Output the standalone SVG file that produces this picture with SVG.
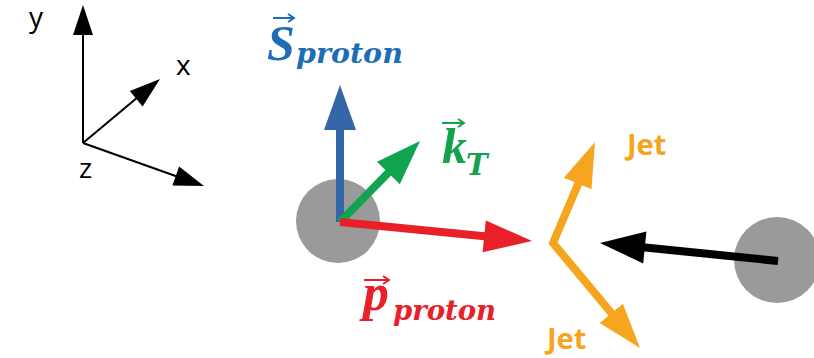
<svg xmlns="http://www.w3.org/2000/svg" width="814" height="358" viewBox="0 0 814 358">
<style>
.ax{stroke:#000;stroke-width:2;fill:none}
.axl{font-family:"Open Sans","Liberation Sans",sans-serif;font-size:28px;fill:#000}
.sh{stroke-width:8;fill:none;stroke-linecap:butt}
.math{font-family:"Liberation Serif","DejaVu Serif",serif;font-weight:bold;font-style:italic}
.sub{font-family:"DejaVu Serif","Liberation Serif",serif;font-weight:bold;font-style:italic}
.jet{font-family:"Open Sans","Liberation Sans",sans-serif;font-weight:bold;font-size:29px;fill:#f5a51c}
.proton{fill:#9a9a9a}
</style>
<rect width="814" height="358" fill="#fff"/>
<g id="axes">
<line class="ax" x1="83" y1="143" x2="83" y2="33"/>
<polygon points="83,5 93,35 73,35" fill="#000"/>
<line class="ax" x1="83" y1="143" x2="138" y2="97"/>
<polygon points="160,79 142.6,106.5 129.8,91.1" fill="#000"/>
<line class="ax" x1="83" y1="143" x2="177" y2="176.5"/>
<polygon points="204,186 172.4,185.4 179.1,166.6" fill="#000"/>
<text class="axl" x="29" y="27">y</text>
<text class="axl" x="176" y="75">x</text>
<text class="axl" x="79" y="178">z</text>
</g>
<g id="proton-left"><circle class="proton" cx="338" cy="221" r="42"/></g>
<g id="proton-right"><circle class="proton" cx="777" cy="260" r="43"/></g>
<g id="connectors">
<line class="sh" stroke="#3566a8" x1="340" y1="222" x2="340" y2="128"/>
<polygon points="340,85 356,130 324,130" fill="#3566a8"/>
<line class="sh" stroke="#10a350" x1="340" y1="222" x2="390" y2="171"/>
<polygon points="420,141 399.8,184.2 377,161.8" fill="#10a350"/>
<line class="sh" stroke="#e9202a" x1="340" y1="222" x2="487" y2="236.5"/>
<polygon points="532,241 482.6,252.2 485.8,220.4" fill="#e9202a"/>
<polyline class="sh" stroke="#f6a61e" stroke-linejoin="miter" points="579,182 553,243 613,315"/>
<polygon points="595,142 591.5,189.3 563.9,177.7" fill="#f6a61e"/>
<polygon points="640,348 599.7,323 622.9,303.8" fill="#f6a61e"/>
<line class="sh" stroke="#000" x1="778" y1="261" x2="643" y2="247.3"/>
<polygon points="600,243 646.4,231.6 643.2,263.4" fill="#000"/>
</g>
<g id="label-spin">
<text class="math" fill="#1e6eb7" x="267" y="60" font-size="50">S</text>
<text class="sub" fill="#1e6eb7" x="296" y="63" font-size="28.5">proton</text>
<line x1="273" y1="18" x2="293" y2="18" stroke="#1e6eb7" stroke-width="2"/>
<polyline points="288,14 294,18 288,22" fill="none" stroke="#1e6eb7" stroke-width="2"/>
</g>
<g id="label-kt">
<text class="math" fill="#14a24c" x="442" y="163" font-size="50">k</text>
<text class="sub" fill="#14a24c" x="466" y="175" font-size="29">T</text>
<line x1="442" y1="123" x2="463" y2="123" stroke="#14a24c" stroke-width="2"/>
<polyline points="458,119 464,123 458,127" fill="none" stroke="#14a24c" stroke-width="2"/>
</g>
<g id="label-p">
<text class="math" fill="#e9202a" x="363" y="310" font-size="52">p</text>
<text class="sub" fill="#e9202a" x="393" y="320" font-size="27.5">proton</text>
<line x1="364" y1="280" x2="388" y2="280" stroke="#e9202a" stroke-width="2"/>
<polyline points="383,276 389,280 383,284" fill="none" stroke="#e9202a" stroke-width="2"/>
</g>
<g id="label-jet1"><text class="jet" x="627" y="155">Jet</text></g>
<g id="label-jet2"><text class="jet" x="547" y="349">Jet</text></g>
</svg>
